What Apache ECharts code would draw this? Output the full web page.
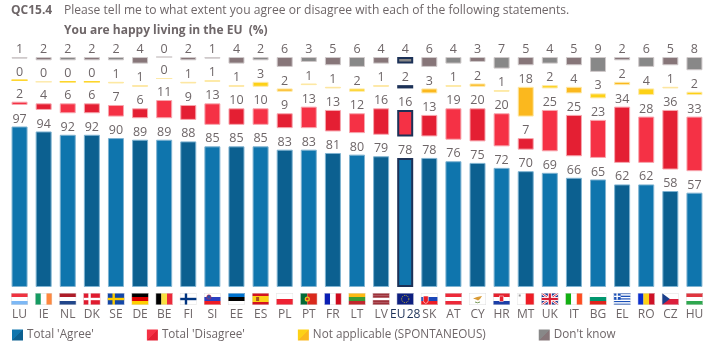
<!DOCTYPE html>
<html>
<head>
<meta charset="utf-8">
<style>
  html, body { margin: 0; padding: 0; background: #fff; }
  #chart { width: 716px; height: 350px; }
</style>
<script src="https://cdn.jsdelivr.net/npm/echarts@6/dist/echarts.min.js"></script>
</head>
<body>
<div id="chart"></div>
<script>
const countries = ['LU','IE','NL','DK','SE','DE','BE','FI','SI','EE','ES','PL','PT','FR','LT','LV','EU28','SK','AT','CY','HR','MT','UK','IT','BG','EL','RO','CZ','HU'];
const agree     = [97,94,92,92,90,89,89,88,85,85,85,83,83,81,80,79,78,78,76,75,72,70,69,66,65,62,62,58,57];
const disagree  = [2,4,6,6,7,6,11,9,13,10,10,9,13,13,12,16,16,13,19,20,20,7,25,25,23,34,28,36,33];
const notAppl   = [0,0,0,0,1,1,0,1,1,1,3,2,1,1,2,1,2,3,1,2,1,18,2,4,3,2,4,1,2];
const dontKnow  = [1,2,2,2,2,4,0,2,1,4,2,6,3,5,6,4,4,6,4,3,7,5,4,5,9,2,6,5,8];
// these two zeros are only a pale hairline in the picture
const paleZeros = ['IE','BE'];

// blank room left between the stacked blocks, it holds the value labels
const GAP = 13;
const TEXT = '#6e6668';
const NAVY = '#1c3157';
const FONT = '"Open Sans", sans-serif';

// [odd column, even column, border]
const blues  = ['#0f75ad', '#0c6090', '#7fb3d1'];
const reds   = ['#f53145', '#e41f33', '#f7a6ae'];
const yellow = ['#fdd116', '#fbb81e', '#fde9a8'];
const greys  = ['#888888', '#877679', '#cfc9ca'];

// small svg flags for the axis labels
const h = cols => cols.map((c, i) => `<rect y="${i * 12 / cols.length}" width="17" height="${12 / cols.length + 0.1}" fill="${c}"/>`).join('');
const v = cols => cols.map((c, i) => `<rect x="${i * 17 / cols.length}" width="${17 / cols.length + 0.1}" height="12" fill="${c}"/>`).join('');
const cross = (bg, c) => `<rect width="17" height="12" fill="${bg}"/><rect x="5" width="2.4" height="12" fill="${c}"/><rect y="4.8" width="17" height="2.4" fill="${c}"/>`;
const flags = {
  LU: h(['#ef3340','#fff','#7db8f5']),
  IE: v(['#169b62','#fff','#ff883e']),
  NL: h(['#ae1c28','#fff','#21468b']),
  DK: cross('#e01b2f', '#fff'),
  SE: cross('#1246a8', '#fecc00'),
  DE: h(['#000','#dd0000','#ffce00']),
  BE: v(['#000','#fae042','#ed2939']),
  FI: cross('#fff', '#003580'),
  SI: h(['#fff','#2a3fc0','#ed1c24']) + '<circle cx="5" cy="4" r="2.2" fill="#2a4fb0" stroke="#ed1c24" stroke-width=".5"/>',
  EE: h(['#0072ce','#000','#fff']),
  ES: h(['#d4121f','#fcd116','#fcd116','#d4121f']) + '<rect x="4" y="4" width="3" height="4" fill="#a8521f"/>',
  PL: h(['#fff','#ee2233']),
  PT: '<rect width="7" height="12" fill="#046a38"/><rect x="7" width="10" height="12" fill="#da291c"/><circle cx="7" cy="6" r="2.6" fill="#e8c520"/><circle cx="7" cy="6" r="1.3" fill="#da291c"/>',
  FR: v(['#0a1fb5','#fff','#cf0a1c']),
  LT: h(['#fdb913','#3a9b35','#c1272d']),
  LV: h(['#9e3039','#9e3039','#fff','#9e3039','#9e3039']),
  EU28: '<rect width="17" height="12" fill="#0c1e80"/><circle cx="8.5" cy="6" r="3.6" fill="none" stroke="#e8d020" stroke-width=".9" stroke-dasharray=".9 1"/>',
  SK: h(['#fff','#1a47b8','#ee1c25']) + '<path d="M2.5 3h5v4.5q0 2-2.5 3q-2.5-1-2.5-3z" fill="#ee1c25" stroke="#fff" stroke-width=".6"/>',
  AT: h(['#ed2939','#fff','#ed2939']),
  CY: '<rect width="17" height="12" fill="#fff"/><path d="M4 5.5l4-1.5 5-1-2 3-2 1.5-2-1z" fill="#d99a35"/><path d="M6 9q2.5 1.5 5 0" stroke="#7a9a5a" fill="none"/>',
  HR: h(['#e5212e','#fff','#1c3fa8']) + '<rect x="6.5" y="3" width="4" height="5.5" fill="#e5212e" stroke="#fff" stroke-width=".5"/>',
  MT: v(['#fff','#ee1c25']) + '<rect x="1.5" y="1.5" width="2" height="2" fill="#999"/>',
  UK: '<rect width="17" height="12" fill="#1f3a93"/><path d="M0 0L17 12M17 0L0 12" stroke="#fff" stroke-width="2.4"/><path d="M0 0L17 12M17 0L0 12" stroke="#d81e34" stroke-width=".9"/><rect x="6.5" width="4" height="12" fill="#fff"/><rect y="4" width="17" height="4" fill="#fff"/><rect x="7.4" width="2.2" height="12" fill="#d81e34"/><rect y="4.9" width="17" height="2.2" fill="#d81e34"/>',
  IT: v(['#12b012','#fff','#ff4b1f']),
  BG: h(['#fff','#00966e','#e0231c']),
  EL: h(['#1a50b8','#fff','#1a50b8','#fff','#1a50b8','#fff','#1a50b8','#fff','#1a50b8']) + '<rect width="7" height="6.7" fill="#1a50b8"/><rect x="2.8" width="1.4" height="6.7" fill="#fff"/><rect y="2.7" width="7" height="1.3" fill="#fff"/>',
  RO: v(['#0a2fd0','#fcd116','#ce1126']),
  CZ: h(['#fff','#dc1f3c']) + '<path d="M0 0L8 6L0 12z" fill="#1a3f8c"/>',
  HU: h(['#e0353f','#fff','#2fa84f'])
};

const richStyles = {
  name: { color: TEXT, fontSize: 12, fontFamily: FONT, lineHeight: 18, align: 'center' },
  eu: { color: NAVY, fontSize: 12, fontFamily: FONT, lineHeight: 18, align: 'center' }
};
countries.forEach(c => {
  const svg = `<svg xmlns="http://www.w3.org/2000/svg" width="17" height="12" viewBox="0 0 17 12">${flags[c]}<rect x=".25" y=".25" width="16.5" height="11.5" fill="none" stroke="#ddd" stroke-width=".5"/></svg>`;
  richStyles['f' + c] = {
    width: 17, height: 12, lineHeight: 14, align: 'center',
    backgroundColor: { image: 'data:image/svg+xml;charset=utf-8,' + encodeURIComponent(svg) }
  };
});

function barData(values, palette) {
  return values.map((val, i) => {
    const isEU = countries[i] === 'EU28';
    let border = isEU ? NAVY : palette[2];
    if (val === 0 && !paleZeros.includes(countries[i])) border = palette[0];
    return {
      value: val,
      itemStyle: {
        color: palette[i % 2],
        borderColor: border,
        borderWidth: isEU ? 2 : 1
      }
    };
  });
}

function block(name, values, palette) {
  return {
    name, type: 'bar', stack: 'all', barWidth: 16,
    data: barData(values, palette),
    label: { show: true, position: 'top', distance: 1, color: TEXT, fontSize: 12.5, fontFamily: FONT }
  };
}

function spacer(name) {
  return {
    name, type: 'bar', stack: 'all', barWidth: 16, silent: true,
    data: countries.map(() => GAP),
    itemStyle: { color: 'transparent' }
  };
}

function swatch(palette) {
  return new echarts.graphic.LinearGradient(0, 0, 1, 1, [
    { offset: 0, color: palette[0] }, { offset: 0.5, color: palette[0] },
    { offset: 0.5, color: palette[1] }, { offset: 1, color: palette[1] }
  ]);
}

const chart = echarts.init(document.getElementById('chart'), null, { renderer: 'canvas' });
chart.setOption({
  animation: false,
  title: [
    { text: 'QC15.4', left: 11, top: 5, padding: 0, textStyle: { color: TEXT, fontSize: 12, fontWeight: 'bold', fontFamily: FONT } },
    { text: 'Please tell me to what extent you agree or disagree with each of the following statements.', left: 64, top: 5, padding: 0, textStyle: { color: TEXT, fontSize: 12.1, fontWeight: 'normal', fontFamily: FONT } },
    { text: 'You are happy living in the EU  (%)', left: 64, top: 25, padding: 0, textStyle: { color: TEXT, fontSize: 12, fontWeight: 'bold', fontFamily: FONT } }
  ],
  legend: {
    left: 12, top: 329, padding: 0, itemWidth: 11, itemHeight: 11, itemGap: 53, selectedMode: false,
    textStyle: { color: TEXT, fontSize: 11.7, fontFamily: FONT, padding: [0, 0, 0, -1] },
    data: [
      { name: "Total 'Agree'", icon: 'rect', itemStyle: { color: swatch(blues) } },
      { name: "Total 'Disagree'", icon: 'rect', itemStyle: { color: swatch(reds) } },
      { name: 'Not applicable (SPONTANEOUS)', icon: 'rect', itemStyle: { color: swatch(yellow) } },
      { name: "Don't know", icon: 'rect', itemStyle: { color: swatch(greys) } }
    ]
  },
  grid: { left: 7.5, right: 9.5, top: 57, height: 230 },
  xAxis: {
    type: 'category', data: countries,
    axisLine: { show: false }, axisTick: { show: false },
    axisLabel: {
      interval: 0, margin: 5, rich: richStyles,
      formatter: c => c === 'EU28' ? `{fEU28|}\n{eu|EU\u200a28}` : `{f${c}|}\n{name|${c}}`
    }
  },
  yAxis: { type: 'value', min: 0, max: 100 + 3 * GAP, show: false, splitLine: { show: false } },
  series: [
    block("Total 'Agree'", agree, blues),
    spacer('gap1'),
    block("Total 'Disagree'", disagree, reds),
    spacer('gap2'),
    block('Not applicable (SPONTANEOUS)', notAppl, yellow),
    spacer('gap3'),
    block("Don't know", dontKnow, greys)
  ]
});
</script>
</body>
</html>
